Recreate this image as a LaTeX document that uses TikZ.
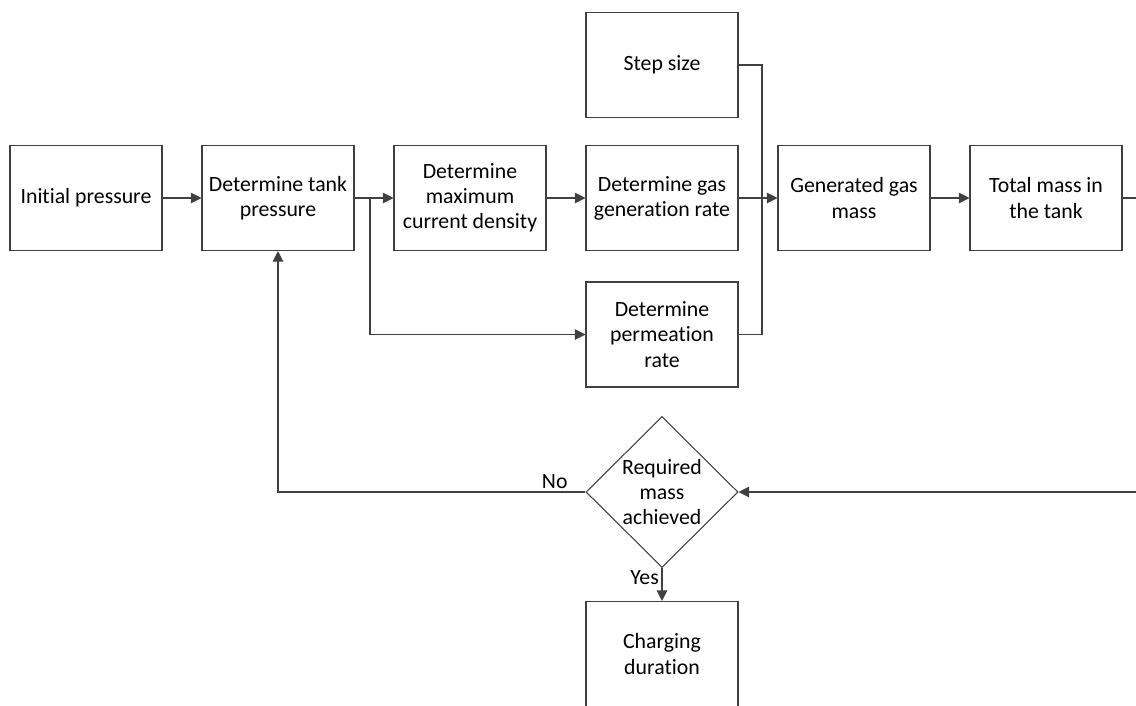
\documentclass[tikz,border=0pt]{standalone}
\usepackage{fontspec}
\setmainfont{Carlito}[Ligatures=NoCommon]
\usetikzlibrary{positioning,arrows.meta,shapes.geometric}

\begin{document}
\begin{tikzpicture}[
    font=\fontsize{12.4}{14.3}\selectfont,
    stage/.style={draw=black!75, semithick, fill=white, minimum width=3.04cm, minimum height=2.1cm, align=center, inner sep=2pt},
    decision/.style={diamond, draw=black!75, semithick, fill=white, aspect=1, minimum width=3.04cm, minimum height=3.02cm, align=center, inner sep=0pt},
    flow/.style={-{Triangle[length=6pt,width=6pt]}, draw=black!75, semithick},
    link/.style={draw=black!75, semithick},
    elabel/.style={inner sep=1.5pt},
  ]
  \clip (0,0) rectangle (22.72,-14.10);
  \node[stage] (init) at (1.72,-3.96) {Initial pressure};
  \node[stage] (tank) at (5.56,-3.96) {Determine tank\\pressure};
  \node[stage] (maxcur) at (9.40,-3.96) {Determine\\maximum\\current density};
  \node[stage] (gasgen) at (13.24,-3.96) {Determine gas\\generation rate};
  \node[stage] (stepsize) at (13.24,-1.30) {Step size};
  \node[stage] (perm) at (13.24,-6.69) {Determine\\permeation\\rate};
  \node[stage] (genmass) at (17.08,-3.96) {Generated gas\\mass};
  \node[stage] (total) at (20.92,-3.96) {Total mass in\\the tank};
  \node[decision] (reached) at (13.24,-9.84) {Required\\mass\\achieved};
  \node[stage] (charge) at (13.24,-13.08) {Charging\\duration};
  \coordinate (split) at (7.40,-3.96);
  \coordinate (merge) at (15.24,-3.96);
  \coordinate (outer) at (23.20,-3.96);
  \draw[flow] (init) -- (tank);
  \draw[flow] (tank) -- (maxcur);
  \draw[flow] (maxcur) -- (gasgen);
  \draw[flow] (gasgen) -- (genmass);
  \draw[flow] (genmass) -- (total);
  \draw[flow] (split) |- (perm.west);
  \draw[link] (stepsize.east) -| (merge);
  \draw[link] (perm.east) -| (merge);
  \draw[flow] (total.east) -- (outer) |- (reached.east);
  \draw[flow] (reached.west) -| node[elabel,above,pos=0.05] {No} (tank.south);
  \draw[flow] (reached.south) -- node[elabel,left,pos=0.3] {Yes} (charge.north);
\end{tikzpicture}
\end{document}
